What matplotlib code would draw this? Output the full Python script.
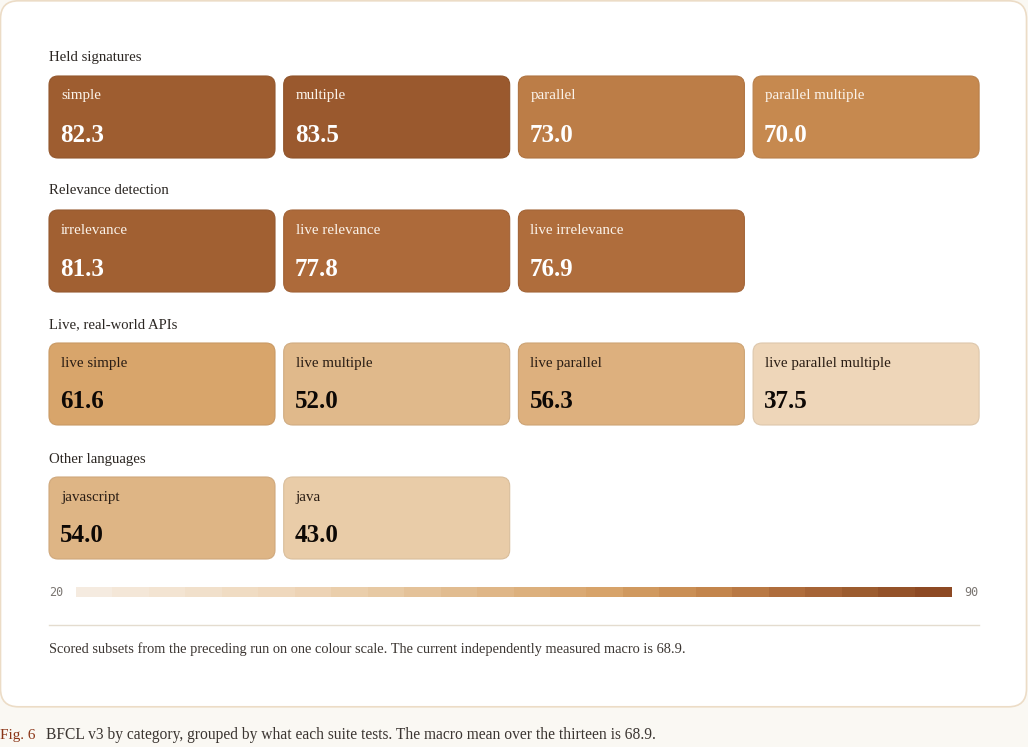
import matplotlib
matplotlib.use("Agg")
import matplotlib.pyplot as plt
import numpy as np
from matplotlib.patches import FancyBboxPatch, Rectangle
from matplotlib.colors import LinearSegmentedColormap, Normalize

# ---- data ----
groups = ["Held signatures", "Relevance detection", "Live, real-world APIs", "Other languages"]
held_names = ["simple", "multiple", "parallel", "parallel multiple"]
held_vals = [82.3, 83.5, 73.0, 70.0]
rel_names = ["irrelevance", "live relevance", "live irrelevance"]
rel_vals = [81.3, 77.8, 76.9]
live_names = ["live simple", "live multiple", "live parallel", "live parallel multiple"]
live_vals = [61.6, 52.0, 56.3, 37.5]
lang_names = ["javascript", "java"]
lang_vals = [54.0, 43.0]
scale_min, scale_max = 20, 90
footnote = "Scored subsets from the preceding run on one colour scale. The current independently measured macro is 68.9."
caption_tag = "Fig. 6"
caption = "BFCL v3 by category, grouped by what each suite tests. The macro mean over the thirteen is 68.9."

rows = [(held_names, held_vals), (rel_names, rel_vals), (live_names, live_vals), (lang_names, lang_vals)]

# ---- style ----
cmap = LinearSegmentedColormap.from_list("bfcl", [
    (0.00, "#f6ede3"), (0.25, "#eed6b9"), (0.33, "#e9cca8"), (0.46, "#e0b98b"),
    (0.594, "#d8a56c"), (0.714, "#c6894f"), (0.826, "#ad6a3a"), (0.907, "#9a5a2e"),
    (1.00, "#8a4520")])
norm = Normalize(scale_min, scale_max)

serif = ["Liberation Serif", "DejaVu Serif"]
W, H = 1028, 747
fig = plt.figure(figsize=(W / 100, H / 100), dpi=100)
fig.patch.set_facecolor("#faf8f3")
ax = fig.add_axes([0, 0, 1, 1])
ax.set_xlim(0, W)
ax.set_ylim(H, 0)
ax.axis("off")

# panel
ax.add_patch(FancyBboxPatch((0.5, 0.8), 1026, 706, boxstyle="round,pad=0,rounding_size=18",
                            fc="white", ec="#ecdcc6", lw=1.2, zorder=0))

x0, cw, gap = 49, 226, 8.7
row_top = [76, 210, 343, 477]
label_y = [58, 191, 325, 459]
ch = 82

for gi, ((names, vals), grp) in enumerate(zip(rows, groups)):
    ax.text(x0, label_y[gi], grp, family=serif, fontsize=10.6, color="#2b2622",
            va="center", ha="left")
    for ci, (n, v) in enumerate(zip(names, vals)):
        cx = x0 + ci * (cw + gap)
        cy = row_top[gi]
        fc = cmap(norm(v))
        ec = tuple(max(0, c * 0.93) for c in fc[:3])
        ax.add_patch(FancyBboxPatch((cx, cy), cw, ch, boxstyle="round,pad=0,rounding_size=9",
                                    fc=fc, ec=ec, lw=0.8, zorder=2))
        dark = v >= 66
        tcol = "#fbf3ea" if dark else "#2a1d14"
        ncol = "#ffffff" if dark else "#0d0805"
        ax.text(cx + 12, cy + 20, n, family=serif, fontsize=10.8, color=tcol,
                va="center", ha="left", zorder=3)
        ax.text(cx + 11, cy + 59, f"{v:.1f}", family=serif, fontsize=18, weight="bold",
                color=ncol, va="center", ha="left", zorder=3)

# stepped colour scale
bx0, bx1, by, bh = 76, 951, 587, 10
edges = np.linspace(scale_min, scale_max, 25)
for a, b in zip(edges[:-1], edges[1:]):
    xa = bx0 + (a - scale_min) / (scale_max - scale_min) * (bx1 - bx0)
    xb = bx0 + (b - scale_min) / (scale_max - scale_min) * (bx1 - bx0)
    ax.add_patch(Rectangle((xa, by), xb - xa + 0.5, bh, fc=cmap(norm((a + b) / 2)), ec="none", zorder=2))
ax.text(56, by + bh / 2, str(scale_min), family="DejaVu Sans Mono", fontsize=8.5, color="#7a7571",
        va="center", ha="center")
ax.text(971, by + bh / 2, str(scale_max), family="DejaVu Sans Mono", fontsize=8.5, color="#7a7571",
        va="center", ha="center")

ax.plot([49, 979], [625, 625], color="#e4dccf", lw=1, zorder=1)
ax.text(49, 649, footnote, family=serif, fontsize=10.4, color="#3b3531", va="center", ha="left")

ax.text(0, 735, caption_tag, family=serif, fontsize=11, color="#8a3416", va="center", ha="left")
ax.text(46, 735, caption, family=serif, fontsize=11.2, color="#3b3531", va="center", ha="left")

fig.savefig("out.png", dpi=100, facecolor=fig.get_facecolor())
